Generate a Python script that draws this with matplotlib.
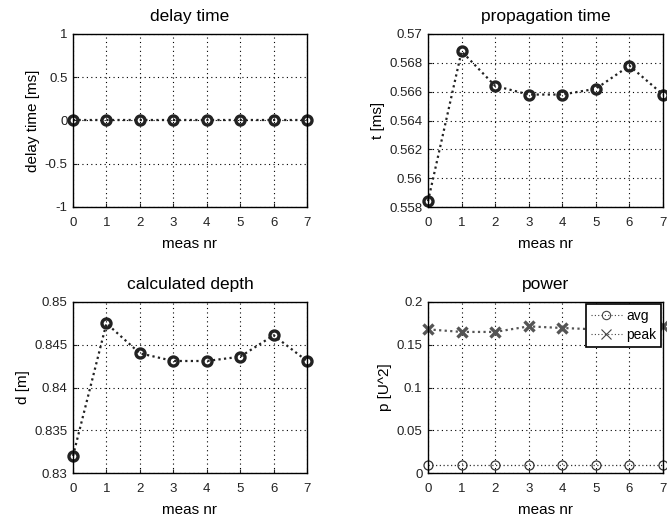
import numpy as np
import matplotlib
matplotlib.use('Agg')
from matplotlib import pyplot as plt
from matplotlib.lines import Line2D

plt.rcParams['font.family'] = ['Liberation Sans', 'DejaVu Sans']

meas = [0, 1, 2, 3, 4, 5, 6, 7]
delay = [0, 0, 0, 0, 0, 0, 0, 0]
prop_time = [0.5584, 0.5688, 0.5664, 0.5658, 0.5658, 0.5662, 0.5678, 0.5658]
depth = [0.8320, 0.8475, 0.8440, 0.8431, 0.8431, 0.8436, 0.8461, 0.8431]
power_avg = [0.009, 0.009, 0.009, 0.009, 0.009, 0.009, 0.009, 0.009]
power_peak = [0.168, 0.165, 0.165, 0.1715, 0.1696, 0.168, 0.170, 0.1715]

fig = plt.figure(figsize=(6.67, 5.21), dpi=100)

# axes boxes in pixels: left, top, right, bottom
boxes = [(73, 34, 307, 207), (428, 34, 663, 207),
         (73, 302, 307, 473), (428, 302, 663, 473)]
W, H = 667, 521
axs = []
for l, t, r, b in boxes:
    axs.append(fig.add_axes([l / W, 1 - b / H, (r - l) / W, (b - t) / H]))


def style(ax, title, ylabel, ylim, yticks, yticklabels):
    ax.set_xlim(0, 7)
    ax.set_ylim(*ylim)
    ax.set_xticks(meas)
    ax.set_yticks(yticks)
    ax.set_yticklabels(yticklabels)
    ax.grid(True, linestyle=(0, (1, 3)), color='black', linewidth=0.8)
    ax.tick_params(direction='in', length=3, labelsize=9.5, colors='#222222', pad=4)
    ax.tick_params(axis='x', pad=7)
    ax.set_title(title, fontsize=12.5, pad=9)
    ax.set_xlabel('meas nr', fontsize=11, labelpad=6)
    ax.set_ylabel(ylabel, fontsize=11, labelpad=3)
    for s in ax.spines.values():
        s.set_linewidth(1.0)


mk = dict(linestyle=(0, (1, 1.5)), color='#222222', linewidth=1.6, marker='o',
          markersize=6.5, markerfacecolor='none', markeredgewidth=2.4, clip_on=False)

ax = axs[0]
ax.plot(meas, delay, **mk)
style(ax, 'delay time', 'delay time [ms]', (-1, 1), [-1, -0.5, 0, 0.5, 1],
      ['-1', '-0.5', '0', '0.5', '1'])

ax = axs[1]
ax.plot(meas, prop_time, **mk)
style(ax, 'propagation time', 't [ms]', (0.558, 0.57),
      [0.558, 0.56, 0.562, 0.564, 0.566, 0.568, 0.57],
      ['0.558', '0.56', '0.562', '0.564', '0.566', '0.568', '0.57'])

ax = axs[2]
ax.plot(meas, depth, **mk)
style(ax, 'calculated depth', 'd [m]', (0.83, 0.85),
      [0.83, 0.835, 0.84, 0.845, 0.85],
      ['0.83', '0.835', '0.84', '0.845', '0.85'])

ax = axs[3]
ax.plot(meas, power_avg, linestyle=(0, (1, 2)), color='#333333', linewidth=0.9,
        marker='o', markersize=6.5, markerfacecolor='none', markeredgewidth=0.9,
        clip_on=False)
ax.plot(meas, power_peak, linestyle=(0, (1, 1.5)), color='#555555', linewidth=1.6,
        marker='x', markersize=6.5, markeredgewidth=2.4, clip_on=False)
style(ax, 'power', 'p [U^2]', (0, 0.2), [0, 0.05, 0.1, 0.15, 0.2],
      ['0', '0.05', '0.1', '0.15', '0.2'])
handles = [Line2D([], [], linestyle=(0, (1, 2)), color='#444444', linewidth=0.8,
                  marker='o', markersize=6, markerfacecolor='none', markeredgewidth=0.8),
           Line2D([], [], linestyle=(0, (1, 2)), color='#444444', linewidth=0.8,
                  marker='x', markersize=7, markeredgewidth=0.8)]
leg = ax.legend(handles, ['avg', 'peak'], loc='upper right', fontsize=10,
                fancybox=False, framealpha=1, edgecolor='black',
                handlelength=2.2, handletextpad=0.3, borderpad=0.35,
                labelspacing=0.35, borderaxespad=0.15)
leg.get_frame().set_linewidth(1.2)
leg.set_zorder(5)

fig.savefig('out.png', dpi=100)
